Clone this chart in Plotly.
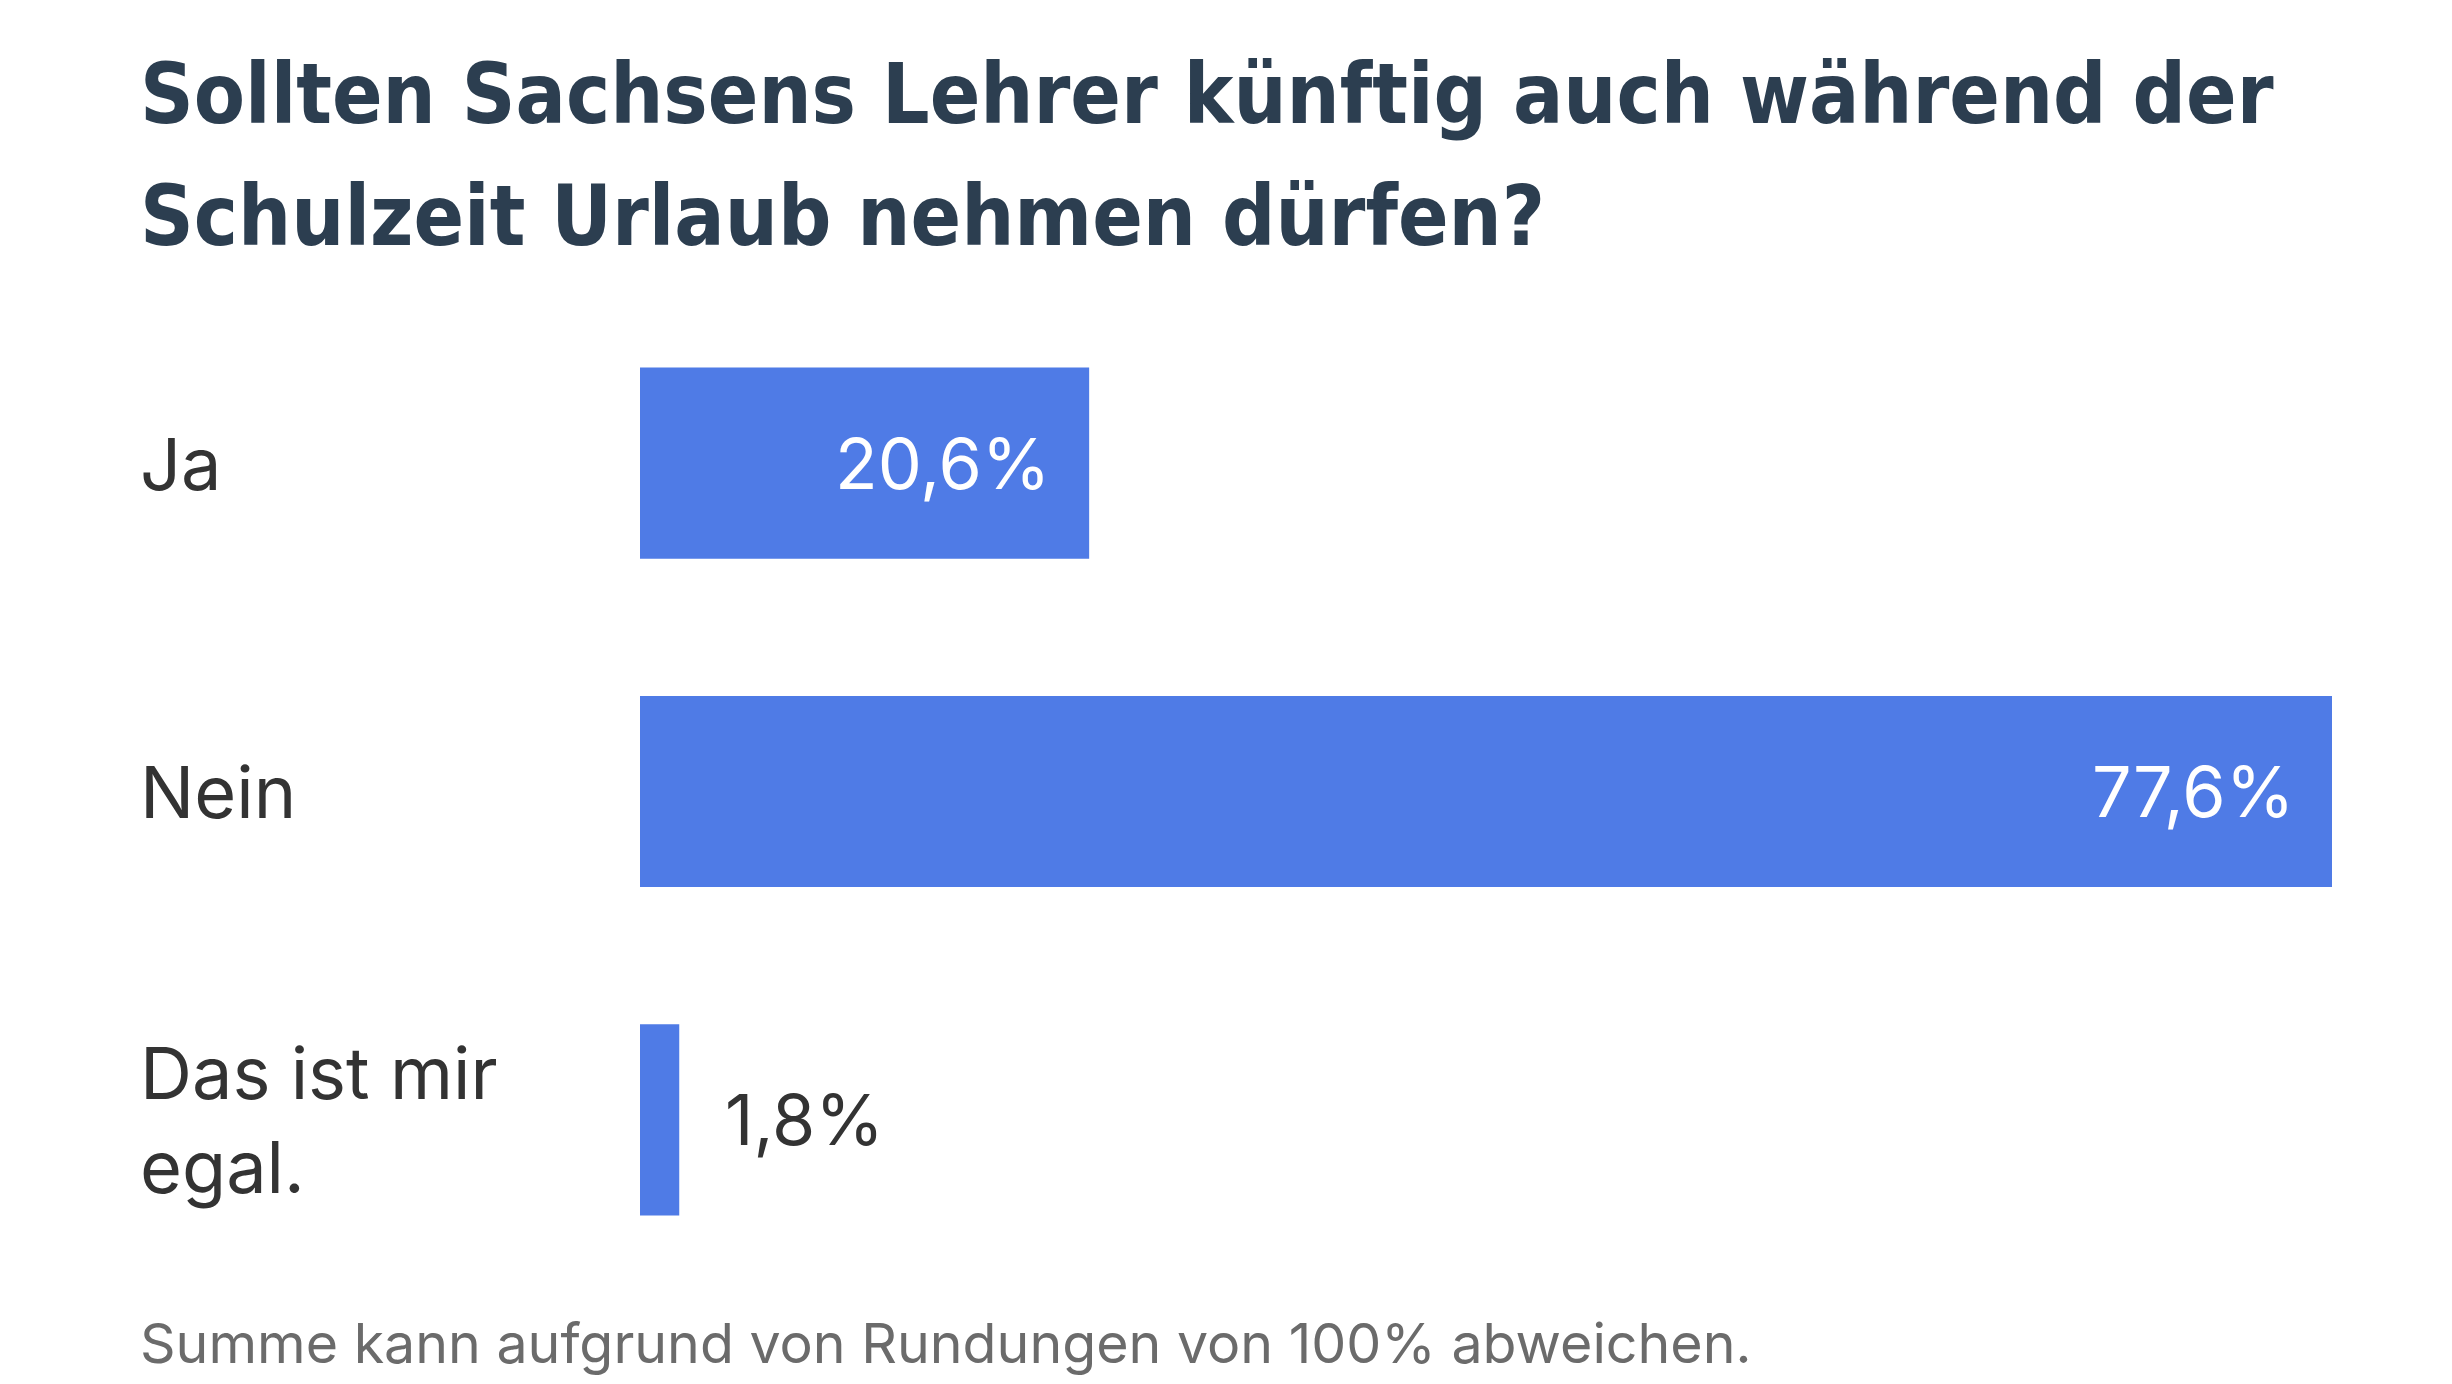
import plotly.graph_objects as go

categories = ["Ja", "Nein", "Das ist mir egal."]
category_labels = ["Ja", "Nein", "Das ist mir<br>egal."]
values = [20.6, 77.6, 1.8]
value_labels = ["20,6%", "77,6%", "1,8%"]
title_lines = ["Sollten Sachsens Lehrer künftig auch während der",
               "Schulzeit Urlaub nehmen dürfen?"]
footnote = "Summe kann aufgrund von Rundungen von 100% abweichen."

OFF = 8  # default page body margin
W, H = 2452 - 2 * OFF, 1384 - 2 * OFF
BAR = "#4f7be6"
TITLE_C = "#2c3e50"
TEXT_C = "#333333"


def px(x):
    return (x - OFF) / W


def py(y):
    return 1 - (y - OFF) / H


fig = go.Figure(go.Bar(
    x=values, y=categories, orientation="h",
    marker=dict(color=BAR, line=dict(width=0)),
    hoverinfo="skip",
))

ann = []
lx = px(138)
for cat, lab in zip(categories, category_labels):
    ann.append(dict(x=lx, xref="paper", y=cat, yref="y", text=lab,
                    xanchor="left", yanchor="middle", align="left", showarrow=False,
                    font=dict(family="Inter", size=72, color=TEXT_C)))
for cat, v, t in zip(categories, values, value_labels):
    inside = v > 10
    ann.append(dict(x=v, xref="x", y=cat, yref="y", text=t,
                    xanchor="right" if inside else "left",
                    xshift=-36 if inside else 44,
                    yanchor="middle", showarrow=False,
                    font=dict(family="Inter", size=70,
                              color="#ffffff" if inside else TEXT_C)))
for i, line in enumerate(title_lines):
    ann.append(dict(x=lx, xref="paper", y=py(125 + 122 * i), yref="paper",
                    text=line, xanchor="left", yanchor="bottom", yshift=-20,
                    showarrow=False,
                    font=dict(family="DejaVu Sans Condensed", size=83,
                              color=TITLE_C, weight="bold")))
ann.append(dict(x=lx, xref="paper", y=py(1342), yref="paper", text=footnote,
                xanchor="left", yanchor="middle", showarrow=False,
                font=dict(family="Inter", size=55.5, color="#6b6b6b")))

fig.update_layout(
    width=W, height=H,
    margin=dict(l=0, r=0, t=0, b=0),
    paper_bgcolor="white", plot_bgcolor="white",
    showlegend=False,
    bargap=0.418,
    xaxis=dict(domain=[px(640), px(2332)], range=[0, 77.6], visible=False, fixedrange=True),
    yaxis=dict(domain=[py(1284), py(299)], categoryorder="array",
               categoryarray=categories, autorange="reversed", visible=False, fixedrange=True),
    annotations=ann,
)

fig.write_html("out.html", config={"displayModeBar": False})
